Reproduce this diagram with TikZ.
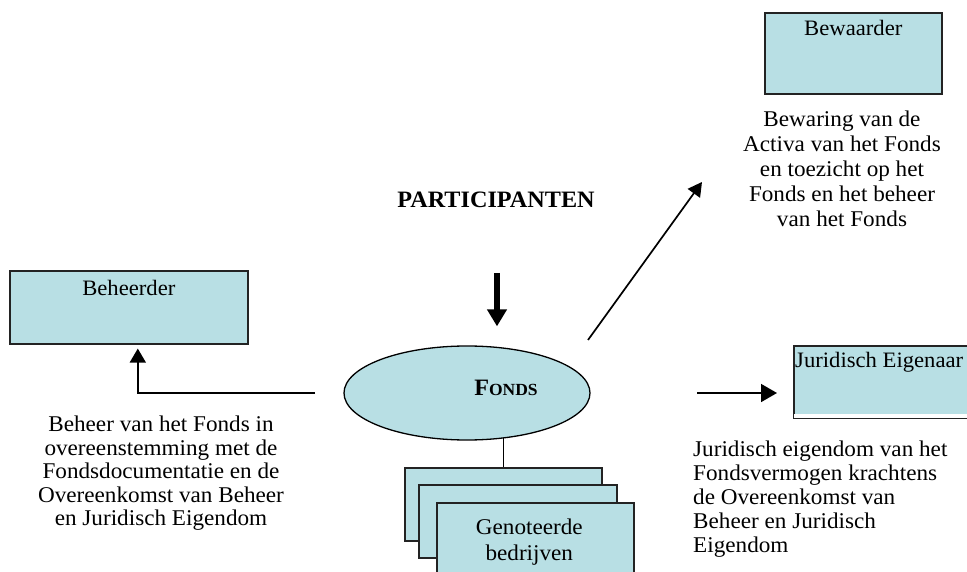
\documentclass[tikz,border=0pt]{standalone}
\usepackage{fontspec}
\setmainfont{Liberation Serif}[FakeStretch=1.03]
\usetikzlibrary{arrows.meta,shapes.geometric,calc}
\definecolor{boxblue}{RGB}{184,223,228}
\definecolor{edgegray}{RGB}{35,35,35}
\begin{document}
\begin{tikzpicture}[x=1pt,y=-1pt,
  box/.style={draw=edgegray, line width=1.6pt, fill=boxblue, rectangle, inner sep=0pt, anchor=north west},
  lbl/.style={font=\fontsize{22}{24}\selectfont, inner sep=0pt},
  arr/.style={line width=1.7pt, -{Triangle[length=14pt,width=15pt]}},
]
\useasboundingbox (0,0) rectangle (967,572);
\clip (0,0) rectangle (967,572);

% boxes
\node[box, minimum width=177pt, minimum height=81pt,
  label={[lbl,anchor=north,yshift=-8pt]north:Bewaarder}] (bew) at (764,12) {};
\node[box, minimum width=238pt, minimum height=73pt,
  label={[lbl,anchor=north,yshift=-10pt]north:Beheerder}] (beh) at (9,270) {};
\node[box, minimum width=220pt, minimum height=72pt,
  label={[lbl,anchor=north west,xshift=2pt,yshift=-7pt]north west:Juridisch Eigenaar}] (jur) at (793,345) {};
\fill[white] ($(jur.south west)+(1,-4.5)$) rectangle ($(jur.south east)+(-1,-1)$);

% stacked boxes
\node[box, minimum width=197pt, minimum height=73pt] (gb1) at (404,467) {};
\node[box, minimum width=198pt, minimum height=73pt] (gb2) at (418,484) {};
\node[box, minimum width=197pt, minimum height=73pt,
  label={[lbl,font=\fontsize{22.5}{26}\selectfont,align=center,anchor=north,xshift=-6pt,yshift=-17pt]north:Genoteerde\\bedrijven}] (gb3) at (436,502) {};

% fonds ellipse
\node[ellipse, draw=black, line width=1.3pt, fill=boxblue, minimum width=246pt, minimum height=94pt, inner sep=0pt,
  label={[inner sep=0pt,font=\bfseries,xshift=39pt,yshift=5pt]center:{\fontsize{23.5}{24}\selectfont F\fontsize{17}{24}\selectfont ONDS}}] (fonds) at (467,393) {};

% texts
\node[lbl, font=\bfseries\fontsize{23.5}{24}\selectfont] (part) at (496,200) {PARTICIPANTEN};
\node[lbl, font=\fontsize{22.5}{25}\selectfont, align=center, anchor=north] (bewtxt) at (842,111)
  {Bewaring van de\\Activa van het Fonds\\en toezicht op het\\Fonds en het beheer\\van het Fonds};
\node[lbl, font=\fontsize{22.5}{23.5}\selectfont, align=center, anchor=north] (behtxt) at (161,416)
  {Beheer van het Fonds in\\overeenstemming met de\\Fondsdocumentatie en de\\Overeenkomst van Beheer\\en Juridisch Eigendom};
\node[lbl, font=\fontsize{22.5}{24}\selectfont, align=left, anchor=north west] (jurtxt) at (693,441)
  {Juridisch eigendom van het\\Fondsvermogen krachtens\\de Overeenkomst van\\Beheer en Juridisch\\Eigendom};

% connectors
\coordinate (pstart) at (497,273);
\draw[line width=6.5pt, -{Triangle[length=17pt,width=19pt]}] (pstart) -- ($(pstart |- fonds.north)+(0,-19)$);

\coordinate (bstart) at (315,393);
\draw[arr, -{Triangle[length=14pt,width=16pt]}] (bstart) -| ($(beh.south)+(9,4)$);

\coordinate (jstart) at (697,393);
\draw[arr, -{Triangle[length=16pt,width=18pt]}] (jstart) -- ($(jstart -| jur.west)+(-16,0)$);

\coordinate (dstart) at (588,340);
\coordinate (dend) at (702,182);
\draw[arr] (dstart) -- (dend);

\draw[line width=1pt] (fonds.-51.3) -- (fonds.-51.3 |- gb1.north);
\end{tikzpicture}
\end{document}
